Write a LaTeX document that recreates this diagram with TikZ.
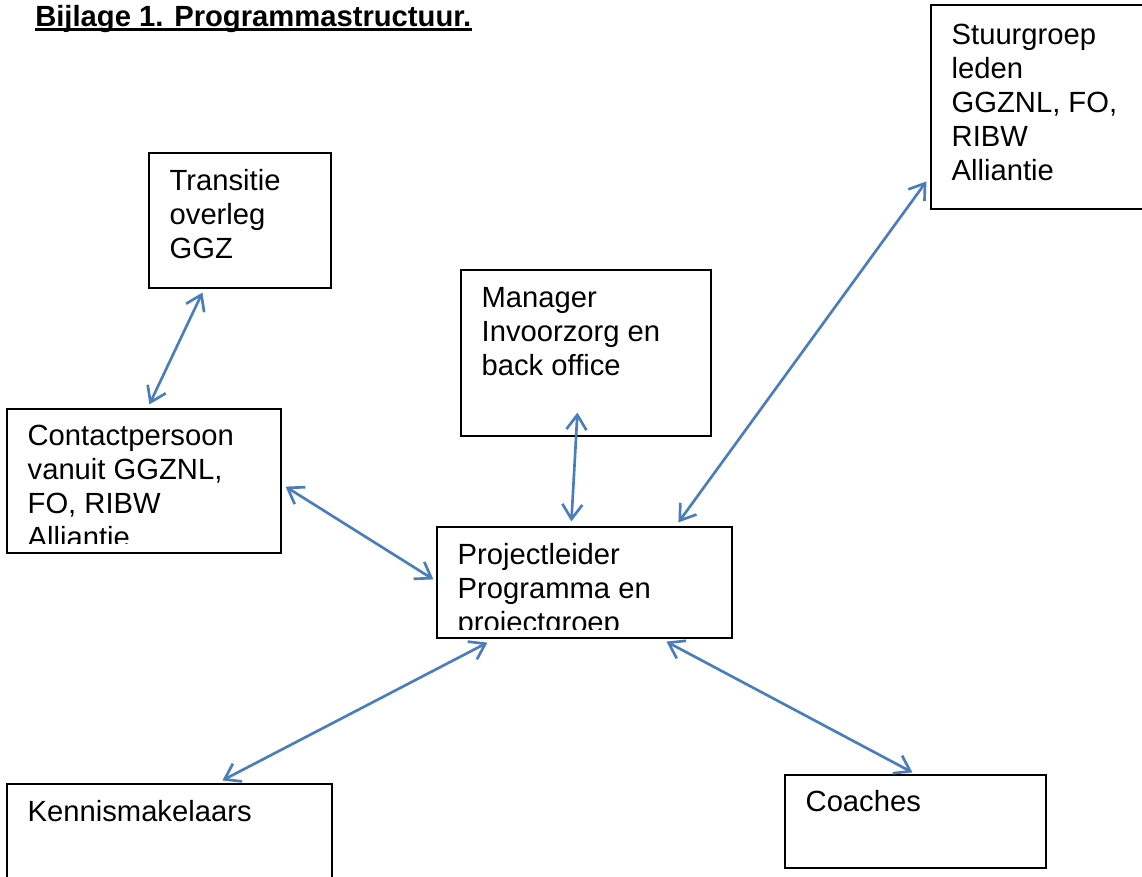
\documentclass[tikz,border=0pt]{standalone}
\usepackage{fontspec}
\setmainfont{Liberation Sans}
\usetikzlibrary{fit,arrows.meta}
\definecolor{arrowblue}{HTML}{4A7EBB}
\newcommand\boxlines[1]{\parbox[t]{12cm}{\raggedright #1}}
\tikzset{
  box/.style={draw=black, line width=0.9pt, fill=none, inner sep=0pt},
  lbl/.style={inner sep=0pt, anchor=base west, font=\fontsize{21.9}{25.5}\selectfont},
  link/.style={draw=arrowblue, line width=2pt, {Straight Barb[length=11pt,width=15pt]}-{Straight Barb[length=11pt,width=15pt]}}
}
\begin{document}
\begin{tikzpicture}[x=0.75pt,y=-0.75pt]
\useasboundingbox[fill=white] (0,0) rectangle (1142,876);

% title
\node[inner sep=0pt, anchor=base west, font=\fontsize{21.9}{25.5}\selectfont\bfseries] (title) at (35,26) {Bijlage 1. Programmastructuur.};
\draw[line width=1.9pt] ([yshift=-2.6pt]title.base west) -- ([yshift=-2.6pt]title.base east);

% boxes
\node[box, fit={(149,153) (331,288)}] (tr) {};
\node[box, fit={(461,270) (711,436)}] (mg) {};
\node[box, fit={(931,5) (1170,209)}] (st) {};
\node[box, fit={(7,409) (281,553)}] (cp) {};
\node[box, fit={(437,527) (732,638)}] (pl) {};
\node[box, fit={(7,784) (332,900)}] (km) {};
\node[box, fit={(785,775) (1046,868)}] (co) {};

% texts
\node[lbl] (trt) at ([shift={(21,38)}]tr.north west) {\boxlines{Transitie\\overleg\\GGZ}};
\node[lbl] (mgt) at ([shift={(21,38)}]mg.north west) {\boxlines{Manager\\Invoorzorg en\\back office}};
\node[lbl] (stt) at ([shift={(21,40)}]st.north west) {\boxlines{Stuurgroep\\leden\\GGZNL, FO,\\RIBW\\Alliantie}};
\begin{scope}
  \clip ([shift={(1,1)}]cp.north west) rectangle ([shift={(-1,-10)}]cp.south east);
  \node[lbl] (cpt) at ([shift={(21,37)}]cp.north west) {\boxlines{Contactpersoon\\vanuit GGZNL,\\FO, RIBW\\Alliantie}};
\end{scope}
\begin{scope}
  \clip ([shift={(1,1)}]pl.north west) rectangle ([shift={(-1,-9)}]pl.south east);
  \node[lbl] (plt) at ([shift={(21,38)}]pl.north west) {\boxlines{Projectleider\\Programma en\\projectgroep}};
\end{scope}
\node[lbl] (kmt) at ([shift={(21,38)}]km.north west) {Kennismakelaars};
\node[lbl] (cot) at ([shift={(21,37)}]co.north west) {Coaches};

% connectors
\draw[link] ([shift={(54,4)}]tr.south west) -- ([shift={(143,-4)}]cp.north west);
\draw[link] ([shift={(117,-24)}]mg.south west) -- ([shift={(135,-5)}]pl.north west);
\draw[link] ([shift={(-4,177)}]st.north west) -- ([shift={(242,-4)}]pl.north west);
\draw[link] ([shift={(4,-67)}]cp.south east) -- ([shift={(-3,53)}]pl.north west);
\draw[link] ([shift={(51,4)}]pl.south west) -- ([shift={(216,-3)}]km.north west);
\draw[link] ([shift={(230,3)}]pl.south west) -- ([shift={(128,-2)}]co.north west);
\end{tikzpicture}
\end{document}
